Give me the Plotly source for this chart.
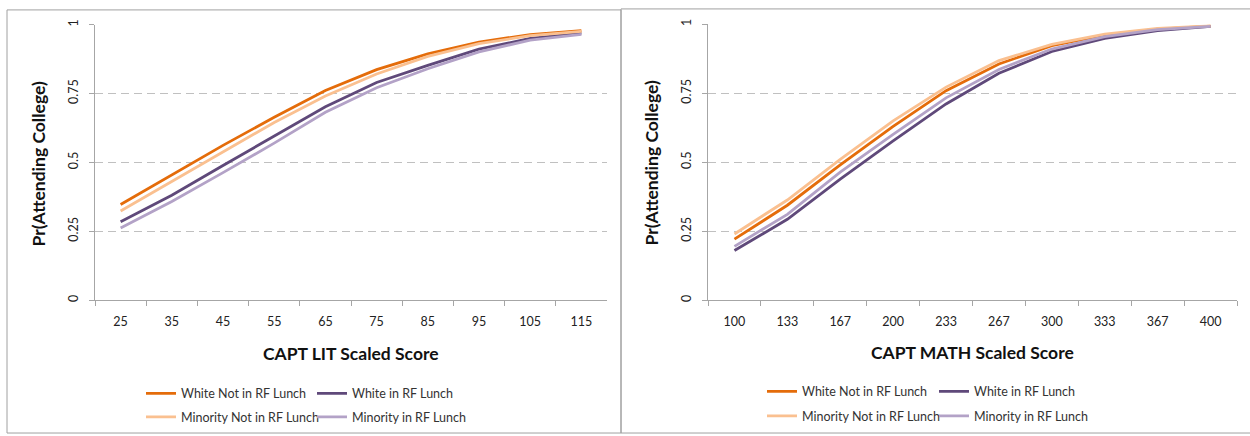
import plotly.graph_objects as go

W, H = 1250, 436

lit_scores = ["25", "35", "45", "55", "65", "75", "85", "95", "105", "115"]
math_scores = ["100", "133", "167", "200", "233", "267", "300", "333", "367", "400"]

series_names = ["White Not in RF Lunch", "White in RF Lunch",
                "Minority Not in RF Lunch", "Minority in RF Lunch"]
series_colors = ["#E46C0A", "#5F497A", "#FAC090", "#B3A2C7"]

lit_white_not_rf = [0.347, 0.453, 0.562, 0.664, 0.761, 0.837, 0.894, 0.937, 0.964, 0.978]
lit_white_rf = [0.285, 0.381, 0.489, 0.594, 0.702, 0.790, 0.852, 0.911, 0.950, 0.969]
lit_minority_not_rf = [0.324, 0.432, 0.537, 0.645, 0.741, 0.821, 0.885, 0.931, 0.960, 0.976]
lit_minority_rf = [0.262, 0.358, 0.463, 0.570, 0.682, 0.771, 0.840, 0.901, 0.944, 0.965]

math_white_not_rf = [0.221, 0.344, 0.490, 0.630, 0.759, 0.856, 0.922, 0.960, 0.982, 0.993]
math_white_rf = [0.180, 0.293, 0.439, 0.577, 0.711, 0.822, 0.901, 0.949, 0.977, 0.992]
math_minority_not_rf = [0.240, 0.363, 0.510, 0.650, 0.772, 0.868, 0.927, 0.964, 0.985, 0.994]
math_minority_rf = [0.195, 0.311, 0.464, 0.601, 0.733, 0.836, 0.910, 0.955, 0.980, 0.992]

y_tickvals = [0, 0.25, 0.5, 0.75, 1]
y_ticktext = ["0", "0.25", "0.5", "0.75", "1"]

FONT = "Lato, 'Open Sans', sans-serif"
AXIS_GRAY = "#A6A6A6"
GRID_GRAY = "#C0C0C0"

fig = go.Figure()

lit_data = [lit_white_not_rf, lit_white_rf, lit_minority_not_rf, lit_minority_rf]
math_data = [math_white_not_rf, math_white_rf, math_minority_not_rf, math_minority_rf]

for i, (name, color, ys) in enumerate(zip(series_names, series_colors, lit_data)):
    fig.add_trace(go.Scatter(x=lit_scores, y=ys, mode="lines", name=name,
                             line=dict(color=color, width=2.8),
                             xaxis="x", yaxis="y", legend=("legend" if i == 0 else f"legend{i+1}")))
for i, (name, color, ys) in enumerate(zip(series_names, series_colors, math_data)):
    fig.add_trace(go.Scatter(x=math_scores, y=ys, mode="lines", name=name,
                             line=dict(color=color, width=2.8),
                             xaxis="x2", yaxis="y2", legend=f"legend{i+5}"))

def px_x(v):
    return v / W

def px_y(v):
    return 1 - v / H

xcommon = dict(type="category", tickson="boundaries", ticks="outside", ticklen=5,
               tickcolor=AXIS_GRAY, showline=True, linecolor=AXIS_GRAY, linewidth=1,
               showgrid=False, range=[-0.5, 9.5], zeroline=False,
               tickfont=dict(family=FONT, size=12.5, color="#222222"),
               ticklabelstandoff=10)
ycommon = dict(range=[0, 1], tickvals=y_tickvals, ticktext=y_ticktext, tickangle=-90,
               ticks="outside", ticklen=5, tickcolor=AXIS_GRAY, showline=True,
               linecolor=AXIS_GRAY, linewidth=1, showgrid=True, gridcolor=GRID_GRAY,
               gridwidth=1, griddash="8px,5px", zeroline=False,
               tickfont=dict(family=FONT, size=12.5, color="#222222"),
               ticklabelstandoff=6)

fig.update_layout(
    width=W, height=H, margin=dict(l=0, r=0, t=0, b=0),
    paper_bgcolor="white", plot_bgcolor="white",
    xaxis=dict(domain=[px_x(95), px_x(607)], anchor="y", **xcommon),
    yaxis=dict(domain=[px_y(300), px_y(20)], anchor="x", **ycommon),
    xaxis2=dict(domain=[px_x(708), px_x(1237)], anchor="y2", **xcommon),
    yaxis2=dict(domain=[px_y(300), px_y(19.5)], anchor="x2", **ycommon),
    showlegend=True,
)

# legends: one per entry, laid out in a 2x2 grid under each chart
legend_pos = [
    (141, 395), (312, 395), (141, 419), (312, 419),
    (762, 393), (934, 393), (762, 418), (934, 418),
]
for i, (lx, ly) in enumerate(legend_pos):
    key = "legend" if i == 0 else f"legend{i+1}"
    fig.update_layout(**{key: dict(x=px_x(lx), y=px_y(ly), xanchor="left", yanchor="middle",
                                   bgcolor="rgba(0,0,0,0)", borderwidth=0,
                                   font=dict(family=FONT, size=12.5, color="#333333"),
                                   itemwidth=30)})

# titles
title_font = dict(family=FONT, size=17.5, color="#111111", weight="bold")
annos = [
    dict(text="CAPT LIT Scaled Score", x=px_x(351), y=px_y(354)),
    dict(text="CAPT MATH Scaled Score", x=px_x(972), y=px_y(353)),
    dict(text="Pr(Attending College)", x=px_x(38), y=px_y(162), textangle=-90),
    dict(text="Pr(Attending College)", x=px_x(651), y=px_y(161), textangle=-90),
]
for a in annos:
    fig.add_annotation(xref="paper", yref="paper", xanchor="center", yanchor="middle",
                       showarrow=False, font=title_font, **a)

# panel frames
fig.add_shape(type="rect", xref="paper", yref="paper",
              x0=px_x(7), x1=px_x(621), y0=px_y(435), y1=px_y(5),
              line=dict(color="#A0A0A0", width=1), layer="below")
fig.add_shape(type="rect", xref="paper", yref="paper",
              x0=px_x(621), x1=px_x(1262), y0=px_y(435), y1=px_y(4),
              line=dict(color="#A0A0A0", width=1), layer="below")

fig.write_html("out.html", config={"displayModeBar": False},
               post_script="document.body.style.margin='0';document.body.style.overflow='hidden';")
